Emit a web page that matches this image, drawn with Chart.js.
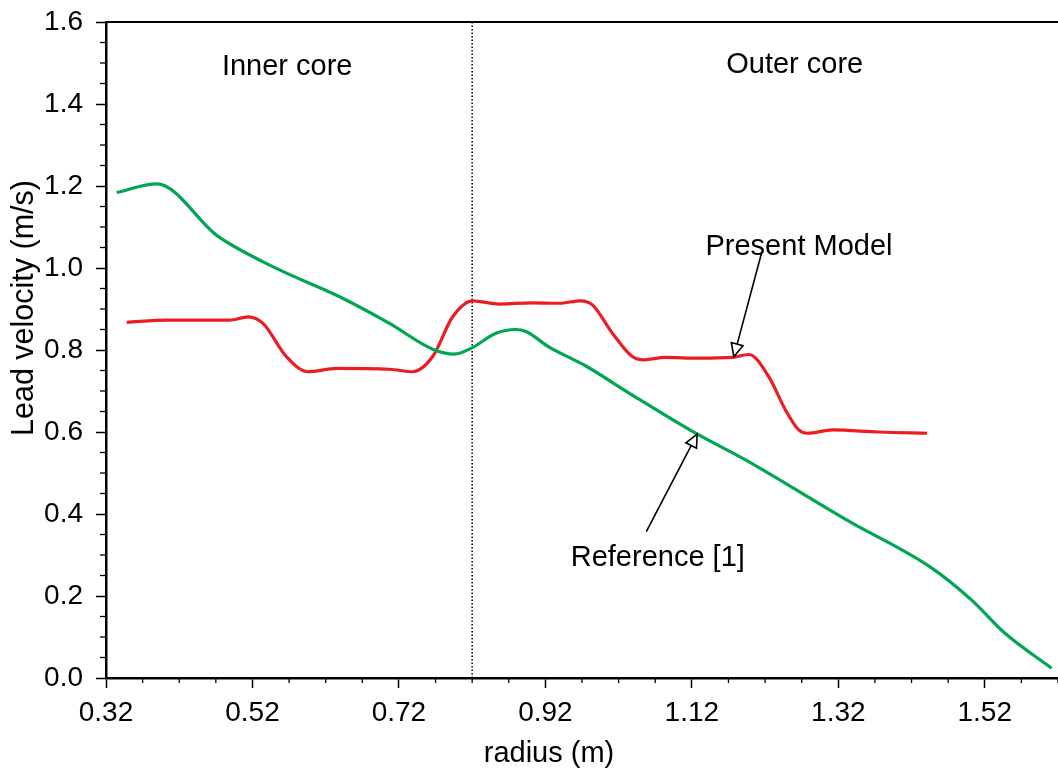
<!DOCTYPE html>
<html>
<head>
<meta charset="utf-8">
<script src="https://cdn.jsdelivr.net/npm/chart.js@4/dist/chart.umd.min.js"></script>
<style>
  html, body { margin: 0; padding: 0; background: #fff; }
  #wrap { width: 1058px; height: 771px; position: relative; }
</style>
</head>
<body>
<div id="wrap"><canvas id="c"></canvas></div>
<script>
// ---- data ----
const referenceX = [0.3346, 0.3891, 0.4731, 0.5527, 0.6390, 0.7071, 0.7661, 0.7957, 0.8184, 0.8525, 0.8798, 0.8934, 0.9252, 0.9752, 1.0387, 1.1251, 1.1933, 1.3318, 1.4477, 1.5021, 1.5476, 1.6112];
const referenceY = [1.184, 1.205, 1.077, 0.999, 0.930, 0.865, 0.802, 0.790, 0.804, 0.841, 0.850, 0.845, 0.807, 0.761, 0.690, 0.597, 0.532, 0.385, 0.268, 0.190, 0.109, 0.024];

const modelX = [0.3482, 0.4027, 0.4890, 0.5140, 0.5344, 0.5663, 0.5957, 0.6344, 0.7071, 0.7389, 0.7661, 0.7934, 0.8206, 0.8570, 0.9024, 0.9388, 0.9684, 0.9842, 1.0115, 1.0387, 1.0524, 1.0842, 1.1296, 1.1750, 1.1978, 1.2250, 1.2478, 1.2659, 1.2775, 1.3123, 1.3750, 1.4412];
const modelY = [0.8675, 0.873, 0.873, 0.881, 0.865, 0.784, 0.747, 0.755, 0.753, 0.747, 0.784, 0.881, 0.920, 0.912, 0.915, 0.914, 0.920, 0.910, 0.841, 0.784, 0.776, 0.782, 0.780, 0.782, 0.789, 0.735, 0.654, 0.605, 0.597, 0.605, 0.600, 0.597];

const dividerX = [0.82, 0.82];
const dividerY = [0.0, 1.6];

const xTickLabels = ['0.32', '0.52', '0.72', '0.92', '1.12', '1.32', '1.52'];
const yTickLabels = ['0.0', '0.2', '0.4', '0.6', '0.8', '1.0', '1.2', '1.4', '1.6'];
const xMinorStep = 0.05;
const yMinorStep = 0.05;

const textLabels = ['Inner core', 'Outer core', 'Present Model', 'Reference [1]'];
const textX = [0.5674, 1.2605, 1.2663, 1.0735];
const textY = [1.495, 1.500, 1.056, 0.2976];

const arrowFromX = [1.2151, 1.0578];
const arrowFromY = [1.0358, 0.3569];
const arrowToX = [1.1773, 1.1273];
const arrowToY = [0.7837, 0.5951];

const xAxisTitle = 'radius (m)';
const yAxisTitle = 'Lead velocity (m/s)';

// ---- styling ----
const FONT = 'Liberation Sans, Arial, Helvetica, sans-serif';
const FS = 28;
const FS_TEXT = 29;
const FS_YTITLE = 30.5;
const GREEN = '#00a651';
const RED = '#ed1c24';

const toPts = (xs, ys) => xs.map((x, i) => ({ x: x, y: ys[i] }));

const decorPlugin = {
  id: 'decor',
  afterDraw(chart) {
    const ctx = chart.ctx;
    const xs = chart.scales.x, ys = chart.scales.y;
    const area = chart.chartArea;
    ctx.save();
    // top border
    ctx.strokeStyle = '#000';
    ctx.lineWidth = 2;
    ctx.beginPath();
    ctx.moveTo(area.left, area.top);
    ctx.lineTo(area.right, area.top);
    ctx.stroke();
    // minor ticks
    ctx.lineWidth = 1.3;
    const xMin = parseFloat(xTickLabels[0]);
    for (let k = 0; ; k++) {
      const v = xMin + k * xMinorStep;
      if (v > xs.max + 1e-9) break;
      if (k % 4 === 0) continue;
      const px = xs.getPixelForValue(v);
      ctx.beginPath();
      ctx.moveTo(px, area.bottom);
      ctx.lineTo(px, area.bottom + 5);
      ctx.stroke();
    }
    for (let k = 0; ; k++) {
      const v = k * yMinorStep;
      if (v > ys.max + 1e-9) break;
      if (k % 4 === 0) continue;
      const py = ys.getPixelForValue(v);
      ctx.beginPath();
      ctx.moveTo(area.left, py);
      ctx.lineTo(area.left - 6, py);
      ctx.stroke();
    }
    // text annotations
    ctx.fillStyle = '#000';
    ctx.font = FS_TEXT + 'px ' + FONT;
    ctx.textAlign = 'center';
    ctx.textBaseline = 'alphabetic';
    textLabels.forEach((t, i) => {
      const px = xs.getPixelForValue(textX[i]);
      const py = ys.getPixelForValue(textY[i]);
      ctx.fillText(t, px, py + FS_TEXT * 0.358);
    });
    // axis titles
    ctx.font = FS_TEXT + 'px ' + FONT;
    ctx.fillText(xAxisTitle, area.left + 443, chart.height - 9);
    ctx.save();
    ctx.translate(33, area.top + 286);
    ctx.rotate(-Math.PI / 2);
    ctx.font = FS_YTITLE + 'px ' + FONT;
    ctx.textAlign = 'center';
    ctx.fillText(yAxisTitle, 0, 0);
    ctx.restore();
    // arrows
    arrowFromX.forEach((fx, i) => {
      const x1 = xs.getPixelForValue(fx), y1 = ys.getPixelForValue(arrowFromY[i]);
      const x2 = xs.getPixelForValue(arrowToX[i]), y2 = ys.getPixelForValue(arrowToY[i]);
      const ang = Math.atan2(y2 - y1, x2 - x1);
      const L = 13, W = 6;
      const bx = x2 - L * Math.cos(ang), by = y2 - L * Math.sin(ang);
      ctx.strokeStyle = '#000';
      ctx.lineWidth = 1.6;
      ctx.beginPath();
      ctx.moveTo(x1, y1);
      ctx.lineTo(bx, by);
      ctx.stroke();
      ctx.beginPath();
      ctx.moveTo(x2, y2);
      ctx.lineTo(bx + W * Math.sin(ang), by - W * Math.cos(ang));
      ctx.lineTo(bx - W * Math.sin(ang), by + W * Math.cos(ang));
      ctx.closePath();
      ctx.fillStyle = '#fff';
      ctx.fill();
      ctx.stroke();
    });
    ctx.restore();
  }
};

new Chart(document.getElementById('c'), {
  type: 'line',
  data: {
    datasets: [
      {
        label: 'Reference [1]',
        data: toPts(referenceX, referenceY),
        borderColor: GREEN,
        borderWidth: 3.2,
        pointRadius: 0,
        fill: false,
        cubicInterpolationMode: 'monotone'
      },
      {
        label: 'Present Model',
        data: toPts(modelX, modelY),
        borderColor: RED,
        borderWidth: 3.2,
        pointRadius: 0,
        fill: false,
        cubicInterpolationMode: 'monotone'
      },
      {
        label: 'divider',
        data: toPts(dividerX, dividerY),
        borderColor: '#000',
        borderWidth: 1.5,
        borderDash: [1.5, 2],
        pointRadius: 0,
        fill: false,
        tension: 0
      }
    ]
  },
  options: {
    responsive: true,
    maintainAspectRatio: false,
    animation: false,
    devicePixelRatio: 1,
    layout: { padding: { top: 22, right: 0, left: 0, bottom: 0 } },
    plugins: { legend: { display: false }, tooltip: { enabled: false } },
    scales: {
      x: {
        type: 'linear',
        min: 0.32,
        max: 1.62,
        afterBuildTicks: (s) => { s.ticks = xTickLabels.map(l => ({ value: parseFloat(l) })); },
        afterFit: (s) => { s.height = 93; s.paddingLeft = 0; s.paddingRight = 0; },
        ticks: {
          color: '#000',
          font: { family: FONT, size: FS },
          padding: 8,
          maxRotation: 0,
          autoSkip: false,
          callback: (v) => { const l = xTickLabels.find(t => Math.abs(parseFloat(t) - v) < 1e-6); return l || ''; }
        },
        grid: { display: true, drawOnChartArea: false, drawTicks: true, tickLength: 10, tickWidth: 1.5, tickColor: '#000' },
        border: { display: true, color: '#000', width: 2.5 },
        title: { display: false }
      },
      y: {
        type: 'linear',
        min: 0,
        max: 1.6,
        afterBuildTicks: (s) => { s.ticks = yTickLabels.map(l => ({ value: parseFloat(l) })); },
        afterFit: (s) => { s.width = 106; s.paddingTop = 0; s.paddingBottom = 0; },
        ticks: {
          color: '#000',
          font: { family: FONT, size: FS },
          padding: 13,
          autoSkip: false,
          callback: (v) => { const l = yTickLabels.find(t => Math.abs(parseFloat(t) - v) < 1e-6); return l || ''; }
        },
        grid: { display: true, drawOnChartArea: false, drawTicks: true, tickLength: 10, tickWidth: 1.5, tickColor: '#000' },
        border: { display: true, color: '#000', width: 2.5 },
        title: { display: false }
      }
    }
  },
  plugins: [decorPlugin]
});
</script>
</body>
</html>
